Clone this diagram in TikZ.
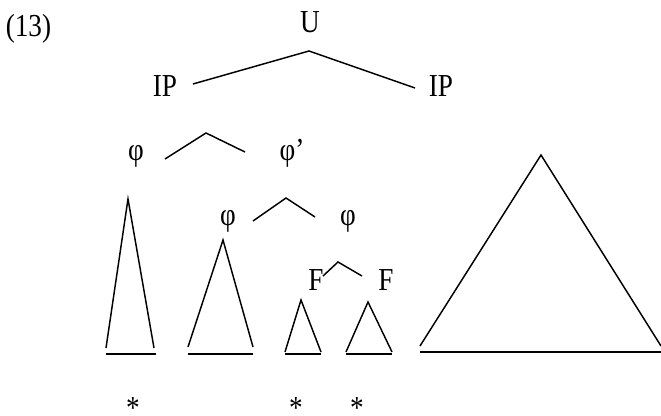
\documentclass[tikz,border=0pt]{standalone}
\usepackage{fontspec}
\setmainfont{Liberation Serif}
\newfontfamily\treefont[FakeStretch=0.85]{Liberation Serif}

\begin{document}
\begin{tikzpicture}[
    x=.75pt, y=-.75pt,
    branch/.style={line width=1.1pt},
    lbl/.style={font=\treefont\fontsize{24}{24}\selectfont, anchor=base, inner sep=0pt},
  ]
  \useasboundingbox (0,0) rectangle (661,416);

  %% labels of the tree
  \node[lbl] (ex) at (28.5,37) {(13)};
  \node[lbl] (U) at (310,33) {U};
  \node[lbl] (ipL) at (165,97) {IP};
  \node[lbl] (ipR) at (441,97) {IP};
  \node[lbl] (phiA) at (136,161) {φ};
  \node[lbl] (phiB) at (292,161) {φ’};
  \node[lbl] (phiC) at (228,226) {φ};
  \node[lbl] (phiD) at (348,226) {φ};
  \node[lbl] (fA) at (316,291) {F};
  \node[lbl] (fB) at (386,291) {F};

  %% branch ends and tops
  \coordinate (U-l) at (193,84);
  \coordinate (U-top) at (309,51);
  \coordinate (U-r) at (415,88);
  \coordinate (ip-l) at (165,159);
  \coordinate (ip-top) at (206,133);
  \coordinate (ip-r) at (245,152);
  \coordinate (phi-l) at (253,221);
  \coordinate (phi-top) at (286,198);
  \coordinate (phi-r) at (315,217);
  \coordinate (f-l) at (323,276);
  \coordinate (f-top) at (338,262);
  \coordinate (f-r) at (362,276);

  \draw[branch] (U-l) -- (U-top) -- (U-r);
  \draw[branch] (ip-l) -- (ip-top) -- (ip-r);
  \draw[branch] (phi-l) -- (phi-top) -- (phi-r);
  \draw[branch] (f-l) -- (f-top) -- (f-r);

  %% triangles: apex, side ends, base line
  \foreach \ax/\ay/\sl/\sr/\sy/\bl/\br/\by in {
      128/199/106/154/348/106/156/354,
      223/240/188/253/347/188/253/354,
      301/300/285/321/352/285/321/354,
      368/302/346/392/352/346/392/354,
      541/155/420/661/346/420/661/352}{
    \draw[branch] (\sl,\sy) -- (\ax,\ay) -- (\sr,\sy);
    \draw[branch] (\bl,\by) -- (\br,\by);
  }

  \foreach \x [count=\i] in {133,296,357}{
    \node[lbl, anchor=north] (star\i) at (\x,397) {*};
  }
\end{tikzpicture}
\end{document}
